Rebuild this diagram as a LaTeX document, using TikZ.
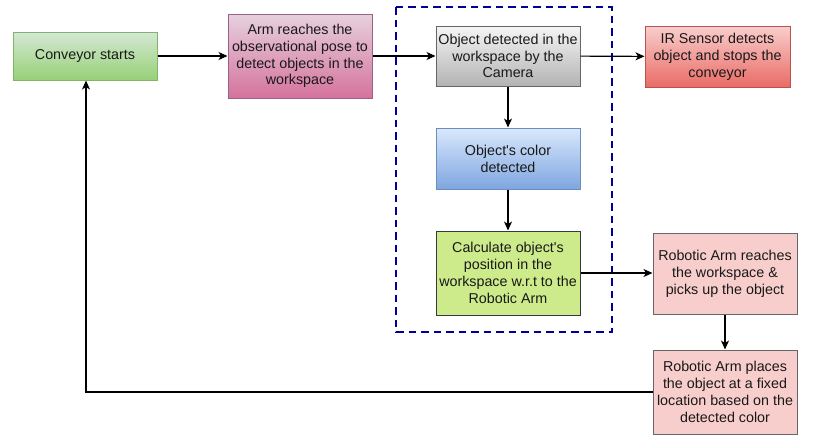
\documentclass[tikz,border=0pt]{standalone}
\usepackage{fontspec}
\setmainfont{Liberation Sans}
\usetikzlibrary{arrows.meta,shadings}
\definecolor{gTop}{HTML}{D5E8D4}\definecolor{gBot}{HTML}{97D077}\definecolor{gBd}{HTML}{82B366}
\definecolor{pTop}{HTML}{E6D0DE}\definecolor{pBot}{HTML}{D5739D}\definecolor{pBd}{HTML}{996185}
\definecolor{kTop}{HTML}{F5F5F5}\definecolor{kBot}{HTML}{B3B3B3}\definecolor{kBd}{HTML}{666666}
\definecolor{rTop}{HTML}{F8CECC}\definecolor{rBot}{HTML}{EA6B66}\definecolor{rBd}{HTML}{B85450}
\definecolor{bTop}{HTML}{DAE8FC}\definecolor{bBot}{HTML}{7EA6E0}\definecolor{bBd}{HTML}{6C8EBF}
\definecolor{lime}{HTML}{CDEB8B}\definecolor{limeBd}{HTML}{36393D}
\definecolor{pink}{HTML}{F8CECC}\definecolor{pinkBd}{HTML}{666666}
\definecolor{dashBlue}{HTML}{000099}
\begin{document}
\begin{tikzpicture}[x=1pt,y=-1pt,
  box/.style={draw, line width=1pt, minimum width=144pt, align=center, inner sep=1pt,
    font=\fontsize{14.3pt}{16.8pt}\selectfont, text=black!90},
  arr/.style={-{Stealth[length=9pt,width=8pt,inset=2.5pt]}, line width=1.1pt},
  grp/.style={draw=dashBlue, line width=2.5pt, dash pattern=on 7.5pt off 5pt}]
\useasboundingbox (0,0) rectangle (821,440);
\draw[grp] (396,7) rectangle (612,332);
\node[box, top color=gTop, bottom color=gBot, draw=gBd, minimum height=48pt] (conv) at (85,56) {Conveyor starts};
\node[box, top color=pTop, bottom color=pBot, draw=pBd, minimum height=84pt] (arm) at (300,56) {Arm reaches the\\observational pose to\\detect objects in the\\workspace};
\node[box, top color=kTop, bottom color=kBot, draw=kBd, minimum height=60pt] (obj) at (508,56) {Object detected in the\\workspace by the\\Camera};
\node[box, top color=rTop, bottom color=rBot, draw=rBd, minimum height=61pt, minimum width=145pt] (ir) at (717.5,56.5) {IR Sensor detects\\object and stops the\\conveyor};
\node[box, top color=bTop, bottom color=bBot, draw=bBd, minimum height=61pt] (col) at (508,158.5) {Object\textquotesingle s color\\detected};
\node[box, fill=lime, draw=limeBd, minimum height=84pt] (calc) at (508,273) {Calculate object\textquotesingle s\\position in the\\workspace w.r.t to the\\Robotic Arm};
\node[box, fill=pink, draw=pinkBd, minimum height=81pt] (reach) at (725,273.5) {Robotic Arm reaches\\the workspace \&\\picks up the object};
\node[box, fill=pink, draw=pinkBd, minimum height=84pt] (place) at (725,392) {Robotic Arm places\\the object at a fixed\\location based on the\\detected color};
\coordinate (corner) at (86,392);
\draw[arr] (conv) -- (arm);
\draw[arr] (arm) -- (obj);
\draw[arr] (obj) -- (ir);
\draw[arr] (obj) -- (col);
\draw[arr] (col) -- (calc);
\draw[arr] (calc) -- (calc -| reach.west);
\draw[arr] (reach) -- (place);
\draw[arr] (place.west) -- (corner) -- (corner |- conv.south);
\end{tikzpicture}
\end{document}
